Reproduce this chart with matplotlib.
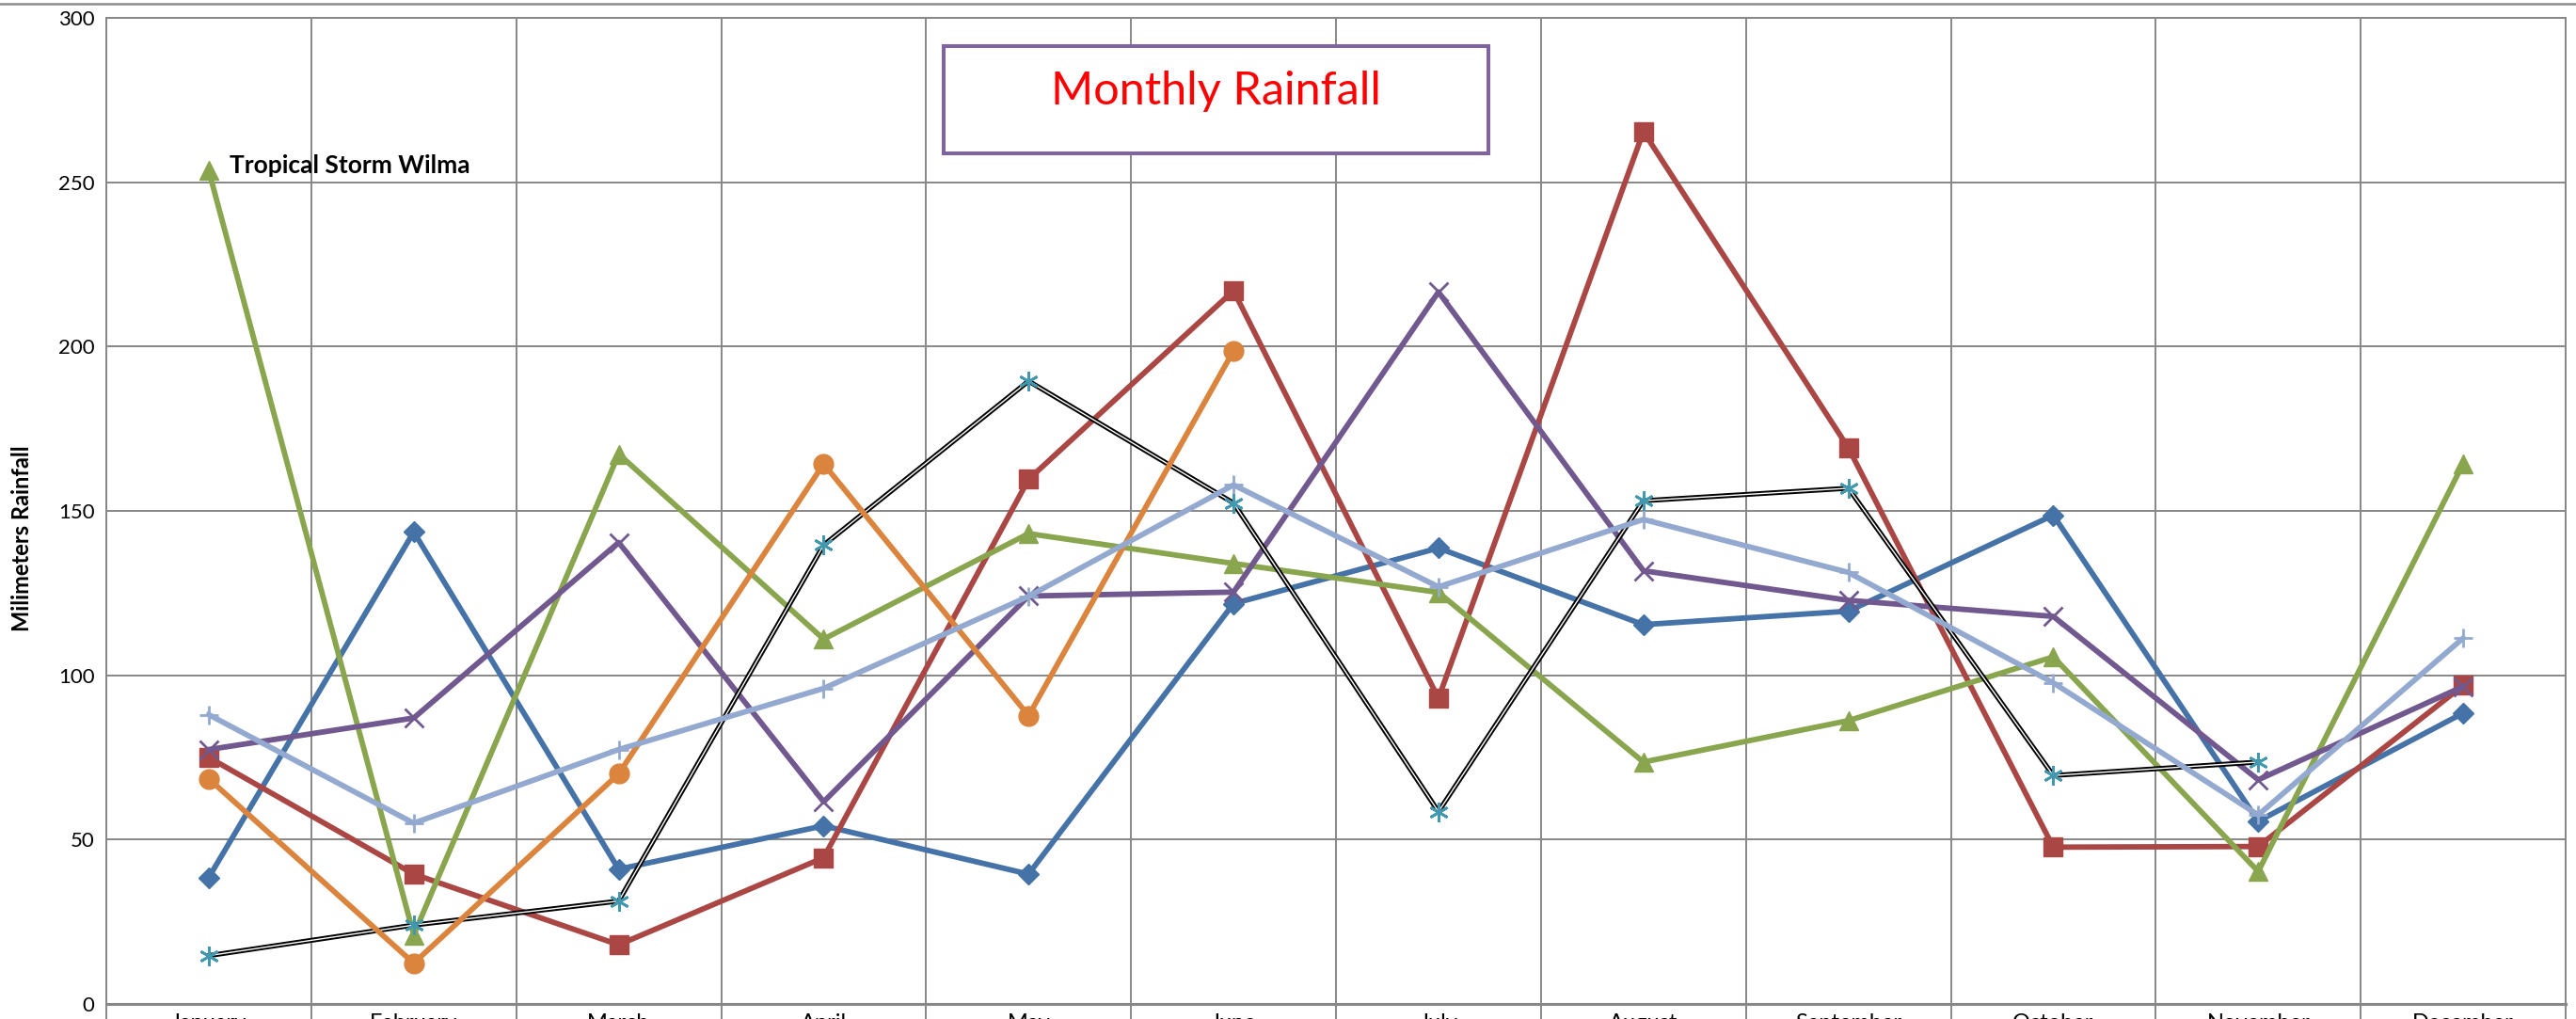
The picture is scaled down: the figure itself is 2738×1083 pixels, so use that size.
import numpy as np
import matplotlib
matplotlib.use("Agg")
import matplotlib.pyplot as plt
from matplotlib.lines import Line2D
from matplotlib.patches import Rectangle

plt.rcParams['font.family'] = ['Lato', 'DejaVu Sans']

months = ['January', 'February', 'March', 'April', 'May', 'June', 'July',
          'August', 'September', 'October', 'November', 'December']
nan = np.nan
s_blue = [38.5, 143.6, 41.0, 54.2, 39.5, 121.8, 138.7, 115.4, 119.5, 148.7, 55.6, 88.5]
s_red = [75.0, 39.5, 18.0, 44.5, 159.6, 217.0, 93.0, 265.4, 169.2, 47.7, 47.9, 96.9]
s_green = [253.5, 21.0, 167.3, 111.0, 143.1, 134.0, 125.2, 73.6, 86.2, 105.6, 40.3, 164.4]
s_purple = [77.4, 87.0, 140.4, 61.5, 124.1, 125.3, 216.6, 131.8, 122.8, 117.9, 68.2, 96.6]
s_teal = [14.7, 24.0, 31.3, 139.6, 189.5, 152.4, 58.5, 153.1, 156.9, 69.5, 73.6, nan]
s_orange = [68.5, 12.4, 70.0, 164.3, 87.7, 198.7, nan, nan, nan, nan, nan, nan]
s_lightblue = [88.0, 55.0, 77.4, 96.0, 124.0, 157.9, 126.9, 147.4, 131.3, 97.7, 57.5, 111.3]
yticks = [0, 50, 100, 150, 200, 250, 300]

W, H = 2738, 1083
fig = plt.figure(figsize=(W / 100, H / 100), dpi=100)
fig.patch.set_facecolor('white')
L, R, T, B = 113, 2727, 19, 1067
ax = fig.add_axes([L / W, 1 - B / H, (R - L) / W, (B - T) / H])

x = np.arange(len(months)) + 0.5
grid_c = '#878787'

# series
lw = 4.2
ms = 15
ax.plot(x, s_blue, color='#4572A7', lw=lw, marker='D', ms=11.5, mec='#4572A7', zorder=3)
ax.plot(x, s_red, color='#AA4643', lw=lw, marker='s', ms=ms, mec='#AA4643', zorder=3)
ax.plot(x, s_green, color='#89A54E', lw=lw, marker='^', ms=ms, mec='#89A54E', zorder=3)
ax.plot(x, s_purple, color='#71588F', lw=lw, marker='x', ms=ms, mew=2.0, mec='#71588F', zorder=3)
ax.plot(x, s_teal, color='black', lw=3.8, zorder=3)
ax.plot(x, s_teal, color='white', lw=1.0, zorder=3)
ax.plot(x, s_teal, ls='none', marker=(6, 2, 0), ms=ms, mew=2.0, mec='#4198AF', zorder=4)
ax.plot(x, s_orange, color='#DB843D', lw=lw, marker='o', ms=ms, mec='#DB843D', zorder=3)
ax.plot(x, s_lightblue, color='#93A9CF', lw=lw, marker='+', ms=ms, mew=2.0, mec='#93A9CF', zorder=3)

ax.annotate('Tropical Storm Wilma', xy=(x[0], s_green[0]), xytext=(16, -1.5),
            textcoords='offset points', fontsize=19, fontweight='bold',
            ha='left', va='baseline', color='black', zorder=5)

ax.set_xlim(0, len(months))
ax.set_ylim(0, 300)
ax.set_yticks(yticks)
ax.set_yticklabels([str(v) for v in yticks], fontsize=16)
ax.tick_params(axis='y', length=0, pad=9)
ax.set_xticks(np.arange(len(months) + 1))
ax.set_xticklabels([])
ax.set_xticks(x, minor=True)
ax.set_xticklabels(months, minor=True, fontsize=17)
ax.tick_params(axis='x', which='major', length=30, width=1.4, color=grid_c, direction='out')
ax.tick_params(axis='x', which='minor', length=0, pad=7)
ax.grid(True, which='major', color=grid_c, lw=1.4, zorder=1)
ax.set_axisbelow(True)
for side in ['left', 'right', 'top']:
    ax.spines[side].set_color(grid_c)
    ax.spines[side].set_linewidth(1.4)
ax.spines['bottom'].set_color(grid_c)
ax.spines['bottom'].set_linewidth(2.2)

fig.text(24 / W, 1 - 572 / H, 'Milimeters Rainfall', rotation=90, fontsize=17,
         fontweight='bold', ha='center', va='center')

# title box
bx0, bx1, by0, by1 = 1003, 1582, 49, 163
fig.add_artist(Rectangle((bx0 / W, 1 - by1 / H), (bx1 - bx0) / W, (by1 - by0) / H,
                         transform=fig.transFigure, facecolor='white',
                         edgecolor='#8064A2', lw=2.9, zorder=10))
fig.text((bx0 + bx1) / 2 / W, 1 - 111 / H, 'Monthly Rainfall', fontsize=35,
         color='#FF0000', ha='center', va='baseline', zorder=11)

# top border line
fig.add_artist(Line2D([0, 1], [1 - 3.5 / H, 1 - 3.5 / H], transform=fig.transFigure,
                      color='#8c8c8c', lw=1.8))

fig.savefig('out.png', dpi=100)
